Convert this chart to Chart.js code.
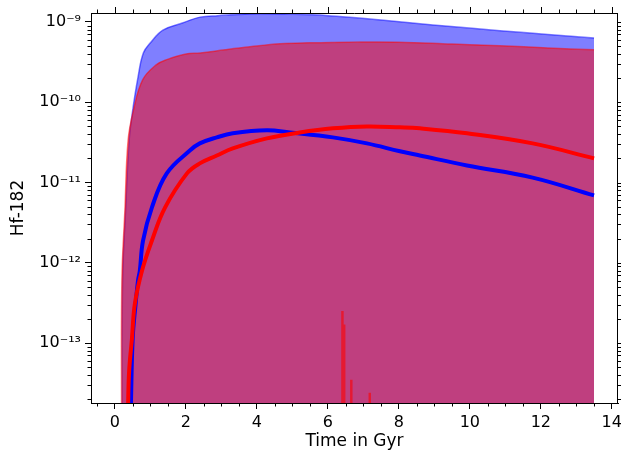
<!DOCTYPE html>
<html>
  <head>
    <title>Hf-182</title>
    <meta charset="utf-8" />
    <script src="https://cdn.jsdelivr.net/npm/chart.js"></script>
    <style>
      html, body { margin: 0; padding: 0; background: #fff; }
      #chart-container { width: 621px; height: 456px; }
    </style>
  </head>
  <body>
    <div id="chart-container">
      <canvas id="hf-chart"></canvas>
    </div>

    <script>
      // upper edge of the blue band (Gyr, Hf-182)
      var blueBandTime = [0.205, 0.215, 0.3, 0.4, 0.5, 0.65, 0.8, 1.0, 1.35, 1.9, 2.4, 2.9, 3.8, 4.8, 6.0, 7.5, 8.96, 10.85, 12.2, 13.5];
      var blueBandTop = [1e-14, 6e-13, 4.5e-12, 3.35e-11, 7.9e-11, 2.05e-10, 4.1e-10, 5.5e-10, 7.9e-10, 9.7e-10, 1.15e-9, 1.2e-9, 1.26e-9, 1.25e-9, 1.2e-9, 1.06e-9, 9.2e-10, 7.8e-10, 7.0e-10, 6.3e-10];

      // upper edge of the red band
      var redBandTime = [0.185, 0.195, 0.28, 0.37, 0.52, 0.78, 1.15, 1.46, 2.0, 2.4, 3.1, 3.8, 4.65, 5.5, 6.6, 8.0, 9.5, 10.85, 12.2, 13.5];
      var redBandTop = [1e-14, 6e-13, 4.5e-12, 3.35e-11, 7.9e-11, 1.9e-10, 2.9e-10, 3.4e-10, 4.0e-10, 4.1e-10, 4.5e-10, 4.9e-10, 5.35e-10, 5.5e-10, 5.6e-10, 5.6e-10, 5.3e-10, 5.05e-10, 4.75e-10, 4.5e-10];

      // blue median track
      var blueTime = [0.44, 0.45, 0.5, 0.58, 0.65, 0.7, 0.79, 1.04, 1.46, 2.11, 2.39, 2.87, 3.32, 4.28, 4.93, 6.14, 7.1, 8.03, 8.59, 9.92, 11.77, 13.5];
      var blueValue = [1e-14, 1.7e-14, 1.15e-13, 3e-13, 6e-13, 7.9e-13, 1.88e-12, 4.87e-12, 1.3e-11, 2.5e-11, 3.07e-11, 3.65e-11, 4.1e-11, 4.47e-11, 4.2e-11, 3.65e-11, 3.07e-11, 2.45e-11, 2.17e-11, 1.63e-11, 1.15e-11, 6.9e-12];

      // red median track
      var redTime = [0.36, 0.37, 0.4, 0.48, 0.56, 0.76, 1.04, 1.41, 2.03, 2.39, 2.87, 3.32, 4.28, 5.21, 6.14, 7.1, 8.03, 8.59, 9.92, 11.77, 13.5];
      var redValue = [1e-14, 1.7e-14, 4.5e-14, 1.15e-13, 3.07e-13, 7.9e-13, 1.88e-12, 4.87e-12, 1.3e-11, 1.73e-11, 2.17e-11, 2.66e-11, 3.55e-11, 4.2e-11, 4.73e-11, 5.0e-11, 4.87e-11, 4.73e-11, 4.1e-11, 3.07e-11, 2.0e-11];

      // thin red spikes near 6.5 Gyr
      var spikeTime = [6.41, 6.46, 6.66, 7.18];
      var spikeTop = [2.5e-13, 1.7e-13, 3.5e-14, 2.4e-14];

      var xTicks = [0, 2, 4, 6, 8, 10, 12, 14];
      var yTicks = [1e-13, 1e-12, 1e-11, 1e-10, 1e-9];

      var xMin = -0.675, xMax = 14.175;
      var yMin = 1.79e-14, yMax = 1.294e-9;

      function toPoints(xs, ys) {
        return xs.map(function (x, i) { return { x: x, y: ys[i] }; });
      }

      function spikePoints() {
        var pts = [];
        for (var i = 0; i < spikeTime.length; i++) {
          pts.push({ x: spikeTime[i], y: 1e-14 });
          pts.push({ x: spikeTime[i], y: spikeTop[i] });
          pts.push({ x: spikeTime[i], y: null });
        }
        return pts;
      }

      var sup = { "-": "\u207B", "0": "\u2070", "1": "\u00B9", "2": "\u00B2", "3": "\u00B3", "4": "\u2074", "5": "\u2075", "6": "\u2076", "7": "\u2077", "8": "\u2078", "9": "\u2079" };
      function powLabel(v) {
        var e = String(Math.round(Math.log10(v)));
        return "10" + e.split("").map(function (c) { return sup[c]; }).join("");
      }

      // minor tick positions
      var xMinor = [];
      for (var t = -0.5; t <= 14; t += 0.5) {
        if (t % 2 !== 0) xMinor.push(t);
      }
      var yMinor = [];
      for (var k = -14; k <= -9; k++) {
        for (var m = 2; m <= 9; m++) {
          var v = m * Math.pow(10, k);
          if (v > yMin && v < yMax) yMinor.push(v);
        }
      }

      var frameTicks = {
        id: "frameTicks",
        afterDraw: function (chart) {
          var ctx = chart.ctx, a = chart.chartArea;
          var xs = chart.scales.x, ys = chart.scales.y;
          ctx.save();
          ctx.strokeStyle = "#000";
          ctx.lineWidth = 1;
          ctx.beginPath();
          ctx.moveTo(a.left, a.top + 0.5);
          ctx.lineTo(a.right, a.top + 0.5);
          ctx.moveTo(a.right - 0.5, a.top);
          ctx.lineTo(a.right - 0.5, a.bottom);
          xMinor.forEach(function (v) {
            var px = Math.round(xs.getPixelForValue(v)) + 0.5;
            ctx.moveTo(px, a.bottom);
            ctx.lineTo(px, a.bottom + 3.5);
            ctx.moveTo(px, a.top);
            ctx.lineTo(px, a.top - 3.5);
          });
          xTicks.forEach(function (v) {
            var px = Math.round(xs.getPixelForValue(v)) + 0.5;
            ctx.moveTo(px, a.top);
            ctx.lineTo(px, a.top - 6);
          });
          yMinor.forEach(function (v) {
            var py = Math.round(ys.getPixelForValue(v)) + 0.5;
            ctx.moveTo(a.left, py);
            ctx.lineTo(a.left - 3.5, py);
            ctx.moveTo(a.right, py);
            ctx.lineTo(a.right + 3.5, py);
          });
          yTicks.forEach(function (v) {
            var py = Math.round(ys.getPixelForValue(v)) + 0.5;
            ctx.moveTo(a.right, py);
            ctx.lineTo(a.right + 6, py);
          });
          ctx.stroke();
          ctx.restore();
        }
      };

      var tickFont = { family: "DejaVu Sans", size: 16 };
      var titleFont = { family: "DejaVu Sans", size: 17 };

      new Chart(document.getElementById("hf-chart"), {
        type: "line",
        data: {
          datasets: [
            {
              data: toPoints(redTime, redValue),
              borderColor: "rgb(255, 0, 0)",
              borderWidth: 4,
              pointRadius: 0,
              fill: false,
              tension: 0.4,
              clip: 0
            },
            {
              data: toPoints(blueTime, blueValue),
              borderColor: "rgb(0, 0, 255)",
              borderWidth: 4,
              pointRadius: 0,
              fill: false,
              tension: 0.4,
              clip: 0
            },
            {
              data: spikePoints(),
              borderColor: "rgba(255, 0, 0, 0.6)",
              borderWidth: 2.5,
              pointRadius: 0,
              fill: false,
              spanGaps: false,
              tension: 0,
              clip: 0
            },
            {
              data: toPoints(redBandTime, redBandTop),
              borderColor: "rgba(255, 0, 0, 0.5)",
              backgroundColor: "rgba(255, 0, 0, 0.5)",
              borderWidth: 1.5,
              pointRadius: 0,
              fill: "start",
              tension: 0.4,
              clip: 0
            },
            {
              data: toPoints(blueBandTime, blueBandTop),
              borderColor: "rgba(0, 0, 255, 0.5)",
              backgroundColor: "rgba(0, 0, 255, 0.5)",
              borderWidth: 1.5,
              pointRadius: 0,
              fill: "start",
              tension: 0.4,
              clip: 0
            }
          ]
        },
        options: {
          responsive: true,
          maintainAspectRatio: false,
          animation: false,
          layout: { padding: { left: 0, right: 3, top: 13, bottom: 0 } },
          plugins: {
            legend: { display: false },
            tooltip: { enabled: false }
          },
          scales: {
            x: {
              type: "linear",
              min: xMin,
              max: xMax,
              afterBuildTicks: function (scale) {
                scale.ticks = xTicks.map(function (v) { return { value: v }; });
              },
              afterFit: function (scale) {
                scale.height = 53;
                scale.paddingLeft = 0;
                scale.paddingRight = 0;
              },
              ticks: { font: tickFont, color: "#000", padding: 4, maxRotation: 0, autoSkip: false },
              grid: { drawOnChartArea: false, tickLength: 6, color: "#000" },
              border: { color: "#000", width: 1 },
              title: { display: true, text: "Time in Gyr", font: titleFont, color: "#000", padding: { top: 0, bottom: 4 } }
            },
            y: {
              type: "logarithmic",
              min: yMin,
              max: yMax,
              afterBuildTicks: function (scale) {
                scale.ticks = yTicks.map(function (v) { return { value: v }; });
              },
              afterFit: function (scale) {
                scale.width = 91;
                scale.paddingTop = 0;
                scale.paddingBottom = 0;
              },
              ticks: {
                font: tickFont,
                color: "#000",
                padding: 4,
                autoSkip: false,
                callback: function (v) { return powLabel(v); }
              },
              grid: { drawOnChartArea: false, tickLength: 6, color: "#000" },
              border: { color: "#000", width: 1 },
              title: { display: true, text: "Hf-182", font: titleFont, color: "#000", padding: { top: 8, bottom: 0 } }
            }
          }
        },
        plugins: [frameTicks]
      });
    </script>
  </body>
</html>
